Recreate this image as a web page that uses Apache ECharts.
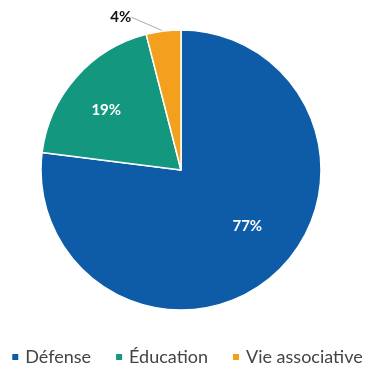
<!DOCTYPE html>
<html><head><meta charset="utf-8">
<script src="https://cdn.jsdelivr.net/npm/echarts@6/dist/echarts.min.js"></script>
<style>html,body{margin:0;padding:0;background:#fff}#c{width:373px;height:374px}</style>
</head><body><div id="c"></div>
<script>
const categories = ['Défense', 'Éducation', 'Vie associative'];
const values = [77, 19, 4];
const colors = ['#0e5ca8', '#13977f', '#f3a01f'];
const labelOffsets = [[18, 1], [-20, -12], [-30, -12]];

const chart = echarts.init(document.getElementById('c'));
chart.setOption({
  animation: false,
  color: colors,
  legend: {
    bottom: 3, left: 'center',
    icon: 'rect', itemWidth: 8, itemHeight: 8, itemGap: 23,
    textStyle: { fontFamily: 'Lato', fontSize: 18, color: '#444', padding: [0, 0, 0, 1] },
    data: categories
  },
  series: [{
    type: 'pie',
    center: [181, 170],
    radius: [0, 140],
    startAngle: 90,
    clockwise: true,
    itemStyle: { borderColor: '#fff', borderWidth: 1.5 },
    label: {
      position: 'inside',
      formatter: '{c}%',
      color: '#fff', fontWeight: 'bold', fontSize: 15, fontFamily: 'Lato'
    },
    labelLayout: function (p) {
      const o = labelOffsets[p.dataIndex];
      if (p.dataIndex === 2) {
        const r = p.labelRect;
        return { x: r.x + r.width + o[0], y: r.y + r.height / 2 + o[1] };
      }
      return { dx: o[0], dy: o[1] };
    },
    data: categories.map((n, i) => {
      const d = { name: n, value: values[i] };
      if (i === 2) {
        d.label = { position: 'outside', color: '#111', distanceToLabelLine: 2 };
        d.labelLine = { show: true, length: 2, length2: 0, lineStyle: { color: '#aaa', width: 1 } };
      }
      return d;
    })
  }]
});
</script></body></html>
